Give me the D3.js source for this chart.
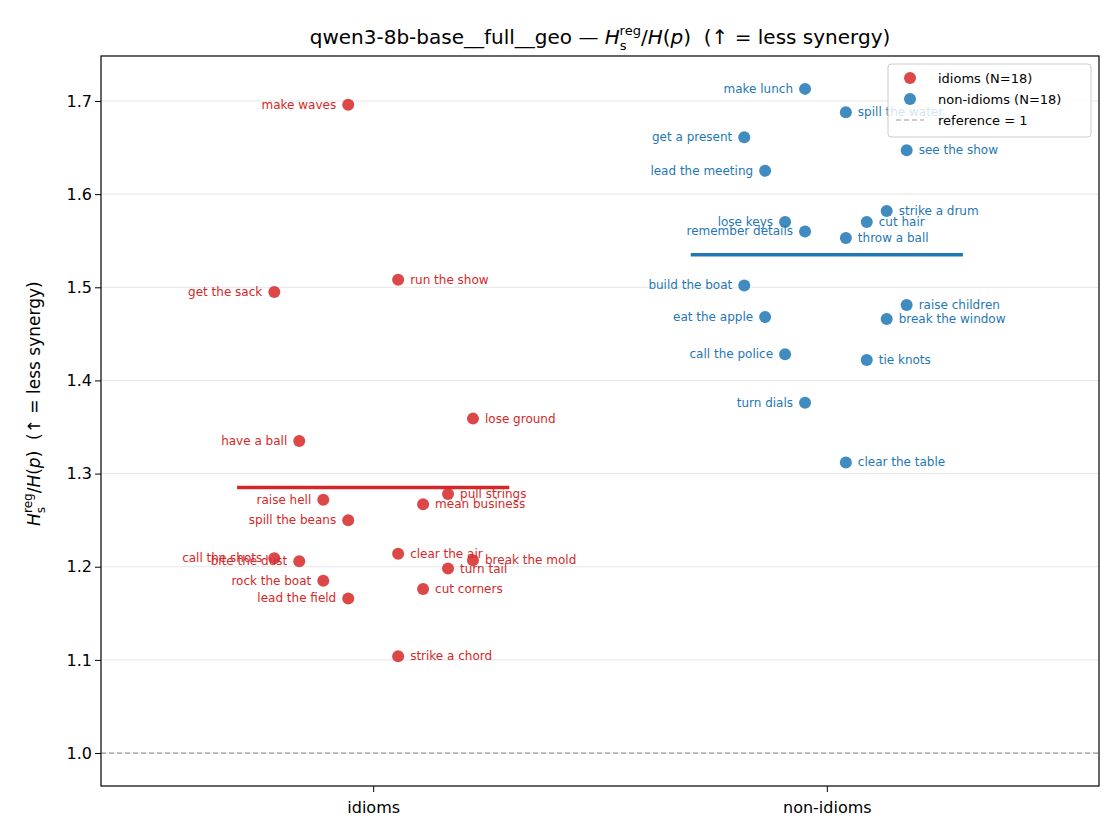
<!DOCTYPE html>
<html>
<head>
<meta charset="utf-8">
<script src="https://cdn.jsdelivr.net/npm/d3@7"></script>
<style>
  body { margin: 0; background: white; font-family: "DejaVu Sans", sans-serif; }
</style>
</head>
<body>
<script>
// categories and group means
var groups = ["idioms", "non-idioms"];
var groupMeans = [1.285, 1.535];
var groupColors = ["#d62728", "#1f77b4"];

// idiom phrases: name, jitter offset, value
var idiomNames = ["make waves", "get the sack", "run the show", "lose ground", "have a ball",
  "raise hell", "pull strings", "mean business", "spill the beans", "call the shots",
  "bite the dust", "clear the air", "break the mold", "turn tail", "rock the boat",
  "cut corners", "lead the field", "strike a chord"];
var idiomJitter = [-0.055, -0.218, 0.055, 0.22, -0.163, -0.11, 0.165, 0.11, -0.055, -0.218,
  -0.163, 0.055, 0.22, 0.165, -0.11, 0.11, -0.055, 0.055];
var idiomValues = [1.696, 1.495, 1.508, 1.359, 1.335, 1.272, 1.278, 1.267, 1.250, 1.209,
  1.206, 1.214, 1.207, 1.198, 1.185, 1.176, 1.166, 1.104];

// non-idiom phrases
var plainNames = ["make lunch", "spill the water", "get a present", "see the show", "lead the meeting",
  "strike a drum", "lose keys", "cut hair", "remember details", "throw a ball", "build the boat",
  "raise children", "eat the apple", "break the window", "call the police", "tie knots",
  "turn dials", "clear the table"];
var plainJitter = [-0.048, 0.042, -0.182, 0.176, -0.136, 0.132, -0.092, 0.088, -0.048, 0.042,
  -0.182, 0.176, -0.136, 0.132, -0.092, 0.088, -0.048, 0.042];
var plainValues = [1.713, 1.688, 1.661, 1.647, 1.625, 1.582, 1.570, 1.570, 1.560, 1.553, 1.502,
  1.481, 1.468, 1.466, 1.428, 1.422, 1.376, 1.312];

var yTicks = [1.0, 1.1, 1.2, 1.3, 1.4, 1.5, 1.6, 1.7];

var margin = {left: 101, right: 21, top: 56, bottom: 54};
var width = 1120, height = 840;

var svg = d3.select("body").append("svg")
  .attr("width", width).attr("height", height);

var x = d3.scaleLinear().domain([-0.6, 1.6]).range([margin.left, width - margin.right]);
var y = d3.scaleLinear().domain([0.9646, 1.7483]).range([height - margin.bottom, margin.top]);

// grid
svg.append("g").selectAll("line").data(yTicks).enter().append("line")
  .attr("x1", margin.left).attr("x2", width - margin.right)
  .attr("y1", function(d) { return y(d); }).attr("y2", function(d) { return y(d); })
  .attr("stroke", "#e6e6e6").attr("stroke-width", 1);

// reference line
svg.append("line")
  .attr("x1", margin.left).attr("x2", width - margin.right)
  .attr("y1", y(1)).attr("y2", y(1))
  .attr("stroke", "#999").attr("stroke-dasharray", "5,3").attr("stroke-width", 1.2);

// mean lines
groupMeans.forEach(function(m, i) {
  svg.append("line")
    .attr("x1", x(i - 0.3)).attr("x2", x(i + 0.3))
    .attr("y1", y(m)).attr("y2", y(m))
    .attr("stroke", groupColors[i]).attr("stroke-width", 3.5);
});

function drawGroup(names, jitter, values, gi) {
  var data = names.map(function(n, i) { return {name: n, dx: jitter[i], v: values[i]}; });
  var g = svg.append("g");
  g.selectAll("circle").data(data).enter().append("circle")
    .attr("cx", function(d) { return x(gi + d.dx); })
    .attr("cy", function(d) { return y(d.v); })
    .attr("r", 6)
    .attr("fill", groupColors[gi]).attr("fill-opacity", 0.85);
  g.selectAll("text").data(data).enter().append("text")
    .attr("x", function(d) { return x(gi + d.dx) + (d.dx < 0 ? -12 : 12); })
    .attr("y", function(d) { return y(d.v) + 4; })
    .attr("text-anchor", function(d) { return d.dx < 0 ? "end" : "start"; })
    .style("font-size", "12px")
    .attr("fill", groupColors[gi])
    .text(function(d) { return d.name; });
}
drawGroup(idiomNames, idiomJitter, idiomValues, 0);
drawGroup(plainNames, plainJitter, plainValues, 1);

// axes
var xAxis = d3.axisBottom(x).tickValues([0, 1]).tickFormat(function(d) { return groups[d]; }).tickSizeOuter(0);
var gx = svg.append("g").attr("transform", "translate(0," + (height - margin.bottom) + ")").call(xAxis);
var gy = svg.append("g").attr("transform", "translate(" + margin.left + ",0)")
  .call(d3.axisLeft(y).tickValues(yTicks).tickFormat(d3.format(".1f")).tickSizeOuter(0));
[gx, gy].forEach(function(g) {
  g.selectAll("text").style("font-size", "16px").style("font-family", "DejaVu Sans").attr("fill", "#000");
  g.selectAll(".tick line").attr("stroke", "#000");
  g.select(".domain").remove();
});
gx.selectAll("text").attr("dy", "1.1em");

// frame
svg.append("rect")
  .attr("x", margin.left).attr("y", margin.top)
  .attr("width", width - margin.left - margin.right)
  .attr("height", height - margin.top - margin.bottom)
  .attr("fill", "none").attr("stroke", "#000").attr("stroke-width", 1.2);

// title
var title = svg.append("text").attr("x", (margin.left + width - margin.right) / 2).attr("y", 44)
  .attr("text-anchor", "middle").style("font-size", "20px").style("white-space", "pre");
title.append("tspan").text("qwen3-8b-base__full__geo — ");
title.append("tspan").style("font-style", "italic").text("H");
title.append("tspan").attr("dy", 6).style("font-size", "13px").text("s");
title.append("tspan").attr("dy", -15).attr("dx", -7).style("font-size", "13px").text("reg");
title.append("tspan").attr("dy", 9).text("/");
title.append("tspan").style("font-style", "italic").text("H");
title.append("tspan").text("(");
title.append("tspan").style("font-style", "italic").text("p");
title.append("tspan").text(")\u00a0\u00a0(↑ = less synergy)");

// y label
var yl = svg.append("text")
  .attr("transform", "translate(40," + (y(1.375)) + ") rotate(-90)")
  .attr("text-anchor", "middle").style("font-size", "17px");
yl.append("tspan").style("font-style", "italic").text("H");
yl.append("tspan").attr("dy", 5).style("font-size", "12px").text("s");
yl.append("tspan").attr("dy", -13).attr("dx", -6).style("font-size", "12px").text("reg");
yl.append("tspan").attr("dy", 8).text("/");
yl.append("tspan").style("font-style", "italic").text("H");
yl.append("tspan").text("(");
yl.append("tspan").style("font-style", "italic").text("p");
yl.append("tspan").text(")\u00a0\u00a0(↑ = less synergy)");

// legend
var lg = svg.append("g").attr("transform", "translate(888,64)");
lg.append("rect").attr("width", 203).attr("height", 73).attr("rx", 3)
  .attr("fill", "white").attr("fill-opacity", 0.8).attr("stroke", "#ccc");
var legItems = ["idioms (N=18)", "non-idioms (N=18)", "reference = 1"];
legItems.forEach(function(t, i) {
  var yy = 14 + i * 21;
  if (i < 2) {
    lg.append("circle").attr("cx", 22).attr("cy", yy).attr("r", 6)
      .attr("fill", groupColors[i]).attr("fill-opacity", 0.85);
  } else {
    lg.append("line").attr("x1", 8).attr("x2", 36).attr("y1", yy).attr("y2", yy)
      .attr("stroke", "#999").attr("stroke-dasharray", "5,3").attr("stroke-width", 1.2);
  }
  lg.append("text").attr("x", 50).attr("y", yy + 5).style("font-size", "13px").text(t);
});
</script>
</body>
</html>
